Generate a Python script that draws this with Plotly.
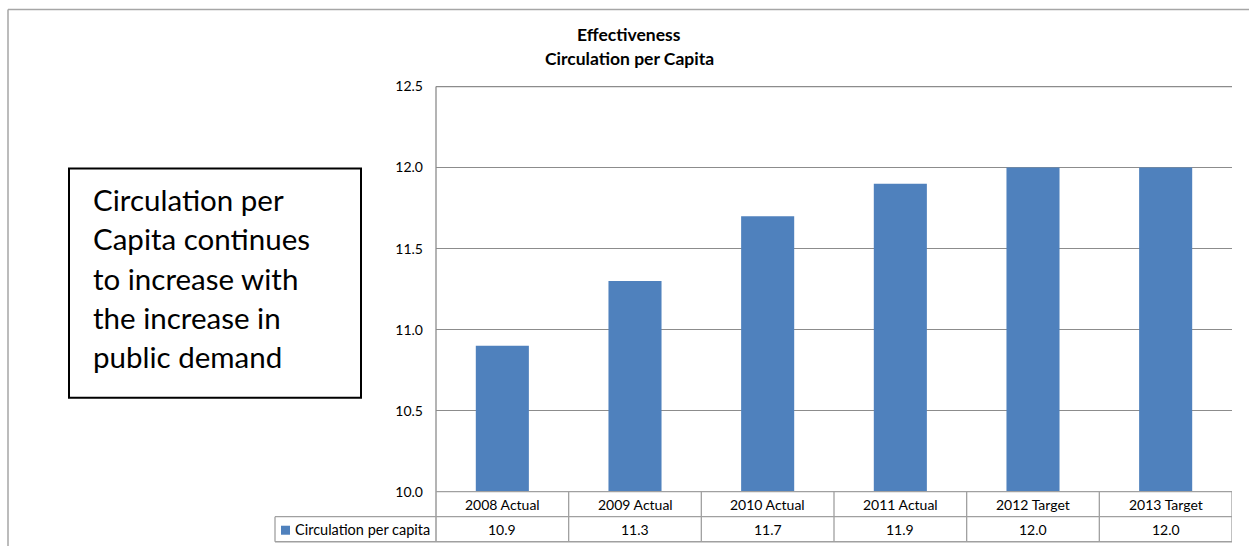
import plotly.graph_objects as go

# Chart data
categories = ["2008 Actual", "2009 Actual", "2010 Actual", "2011 Actual", "2012 Target", "2013 Target"]
values = [10.9, 11.3, 11.7, 11.9, 12.0, 12.0]
value_labels = ["10.9", "11.3", "11.7", "11.9", "12.0", "12.0"]
series_name = "Circulation per capita"
y_ticks = [10.0, 10.5, 11.0, 11.5, 12.0, 12.5]
title_lines = ["Effectiveness", "Circulation per Capita"]
note_lines = ["Circulation per", "Capita continues", "to increase with", "the increase in", "public demand"]

W, H = 1249, 556
# vertical placement: page row = TOP_OFFSET + V_SCALE * figure row
TOP_OFFSET, V_SCALE = 8.5, 0.969

BAR_COLOR = "#4F81BD"
GRID = "#8c8c8c"
TABLE_LINE = "#a0a0a0"
FONT = "Lato, 'Open Sans', sans-serif"

def px(x):
    """page pixel x -> paper fraction"""
    return x / W

def py(y):
    """page pixel y -> paper fraction"""
    return 1 - ((y - TOP_OFFSET) / V_SCALE) / H

# plot-area pixel box (page coordinates)
X0, X1 = 436, 1232
Y0, Y1 = 86, 491
ROW1, ROW2 = 516, 541
LEG_X = 275

fig = go.Figure()
fig.add_trace(go.Bar(
    x=list(range(len(categories))), y=values, marker_color=BAR_COLOR,
    marker_line_width=0, name=series_name, showlegend=False,
))

fig.update_layout(
    width=W, height=H, margin=dict(l=0, r=0, t=0, b=0),
    paper_bgcolor="white", plot_bgcolor="white",
    bargap=0.6,
    font=dict(family=FONT, color="#000000"),
    xaxis=dict(domain=[px(X0), px(X1)], range=[-0.5, len(categories) - 0.5],
               showticklabels=False, showgrid=False, zeroline=False, showline=False),
    yaxis=dict(domain=[py(Y1), py(Y0)], range=[y_ticks[0], y_ticks[-1]],
               tickvals=y_ticks, ticktext=[f"{v:.1f}" for v in y_ticks],
               showgrid=True, gridcolor=GRID, gridwidth=1.3, zeroline=False,
               showline=False, ticks="", ticklabelstandoff=12,
               tickfont=dict(size=14, family=FONT)),
)

shapes = []
# outer chart frame (top and left edges)
shapes.append(dict(type="line", xref="paper", yref="paper", x0=px(8), x1=1.01, y0=py(9), y1=py(9),
                   line=dict(color="#a6a6a6", width=1.5)))
shapes.append(dict(type="line", xref="paper", yref="paper", x0=px(8), x1=px(8), y0=py(9), y1=-0.05,
                   line=dict(color="#a6a6a6", width=1.5)))
# top gridline
shapes.append(dict(type="line", xref="paper", yref="paper", x0=px(X0), x1=px(X1), y0=py(Y0), y1=py(Y0),
                   line=dict(color=GRID, width=1.3)))
# vertical axis line running down through the table
shapes.append(dict(type="line", xref="paper", yref="paper", x0=px(X0), x1=px(X0), y0=py(Y0), y1=py(ROW2),
                   line=dict(color=GRID, width=1.3)))
# data table rows
for yy, xs in [(Y1, X0), (ROW1, LEG_X), (ROW2, LEG_X)]:
    shapes.append(dict(type="line", xref="paper", yref="paper", x0=px(xs), x1=px(X1), y0=py(yy), y1=py(yy),
                       line=dict(color=TABLE_LINE, width=1.3)))
shapes.append(dict(type="line", xref="paper", yref="paper", x0=px(LEG_X), x1=px(LEG_X), y0=py(ROW1), y1=py(ROW2),
                   line=dict(color=TABLE_LINE, width=1.3)))
# column separators
for i in range(len(categories)):
    shapes.append(dict(type="line", xref="x", yref="paper", x0=i + 0.5, x1=i + 0.5, y0=py(Y1), y1=py(ROW2),
                       line=dict(color=TABLE_LINE, width=1.3)))
# legend key
shapes.append(dict(type="rect", xref="paper", yref="paper", x0=px(281), x1=px(290), y0=py(534), y1=py(525),
                   fillcolor=BAR_COLOR, line=dict(width=0)))
# note box
shapes.append(dict(type="rect", xref="paper", yref="paper", x0=px(69), x1=px(361), y0=py(397), y1=py(168),
                   line=dict(color="#000000", width=2), fillcolor="rgba(0,0,0,0)"))

annotations = []
for i, (c, v) in enumerate(zip(categories, value_labels)):
    annotations.append(dict(x=i, xref="x", y=py(503.5), yref="paper", text=c, showarrow=False,
                            font=dict(size=14, family=FONT), xanchor="center", yanchor="middle"))
    annotations.append(dict(x=i, xref="x", y=py(528.5), yref="paper", text=v, showarrow=False,
                            font=dict(size=14, family=FONT), xanchor="center", yanchor="middle"))
annotations.append(dict(x=px(293), xref="paper", y=py(528.5), yref="paper", text=series_name, showarrow=False,
                        font=dict(size=14.5, family=FONT), xanchor="left", yanchor="middle"))
for j, (line, yy) in enumerate(zip(title_lines, [34, 57.5])):
    annotations.append(dict(x=px(629), xref="paper", y=py(yy), yref="paper", text=line, showarrow=False,
                            font=dict(size=17.5, family=FONT, weight="bold"), xanchor="center", yanchor="middle"))
# note text, one line at a time
for j, line in enumerate(note_lines):
    annotations.append(dict(x=px(91), xref="paper", y=py(199 + 39.2 * j), yref="paper", text=line,
                            showarrow=False, font=dict(size=29.5, family=FONT),
                            xanchor="left", yanchor="middle", align="left"))

fig.update_layout(shapes=shapes, annotations=annotations)
fig.write_html("out.html")
